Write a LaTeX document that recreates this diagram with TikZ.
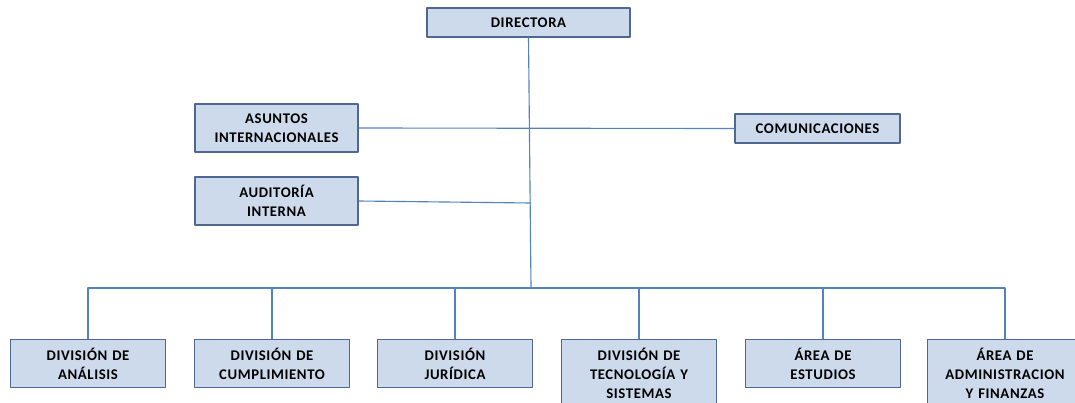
\documentclass[tikz,border=0pt]{standalone}
\usepackage{fontspec}
\setmainfont{Carlito}[LetterSpace=4]
\definecolor{boxfill}{RGB}{204,218,236}
\definecolor{boxline}{RGB}{78,104,146}
\definecolor{linkblue}{RGB}{84,130,190}
\begin{document}
\begin{tikzpicture}[x=0.025cm,y=-0.025cm,line join=round,
	font=\fontsize{10.5}{13.5}\selectfont\bfseries,
	unit/.style={draw=boxline,line width=0.9pt,fill=boxfill,align=center,inner sep=2pt},
	link/.style={draw=linkblue,line width=0.8pt}]
				\useasboundingbox (0,0) rectangle (1075,402);
				\path (531,288) coordinate (bus)
				(531,203) coordinate (aud)
				;
				\node[unit,minimum width=203*0.025cm,minimum height=29*0.025cm] (dir) at (528.5,22.5) {DIRECTORA};
				\node[unit,minimum width=163*0.025cm,minimum height=48*0.025cm] (asu) at (276.5,128) {ASUNTOS\\INTERNACIONALES};
				\node[unit,minimum width=165*0.025cm,minimum height=29*0.025cm] (com) at (817.5,128.5) {COMUNICACIONES};
				\node[unit,minimum width=163*0.025cm,minimum height=48*0.025cm] (int) at (276.5,201) {AUDITORÍA\\INTERNA};
				
				\foreach \n/\x/\h/\t in {d1/88/48/{DIVISIÓN DE\\ANÁLISIS},
					d2/272/48/{DIVISIÓN DE\\CUMPLIMIENTO},
					d3/455/48/{DIVISIÓN\\JURÍDICA},
					d4/639/68/{DIVISIÓN DE\\TECNOLOGÍA Y\\SISTEMAS},
					d5/823/48/{ÁREA DE\\ESTUDIOS},
					d6/1005/68/{ÁREA DE\\ADMINISTRACION\\Y FINANZAS}}
				\node[unit,anchor=north,minimum width=155*0.025cm,minimum height=\h*0.025cm,text width=150*0.025cm] (\n) at (\x,339) {\t};
				
				\draw[link] (dir.south)--(bus);
				\draw[link] (asu.east)--(com.west);
				\draw[link] (int.east)--(aud);
				\draw[link] (d1.north)|-(bus)-|(d6.north);
				\foreach \n in {d2,d3,d4,d5}
				\draw[link] (\n.north)--(\n.north|-bus);
			\end{tikzpicture}
\end{document}
